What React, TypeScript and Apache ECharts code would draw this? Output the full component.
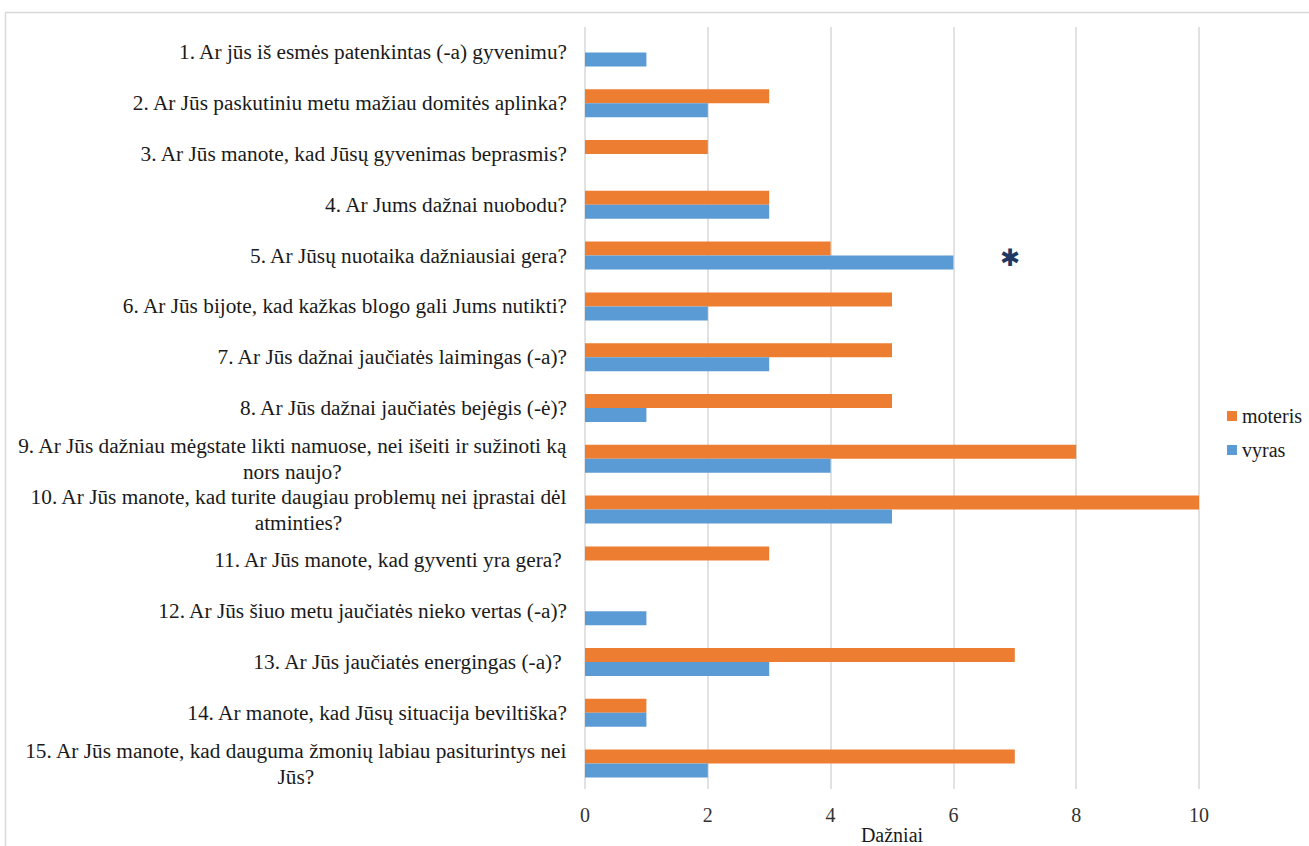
import React, { useEffect, useRef } from "react";
import * as echarts from "echarts";

// Questionnaire items (top to bottom)
const questions: string[] = [
  "1. Ar jūs iš esmės patenkintas (-a) gyvenimu?",
  "2. Ar Jūs paskutiniu metu mažiau domitės aplinka?",
  "3. Ar Jūs manote, kad Jūsų gyvenimas beprasmis?",
  "4. Ar Jums dažnai nuobodu?",
  "5. Ar Jūsų nuotaika dažniausiai gera?",
  "6. Ar Jūs bijote, kad kažkas blogo gali Jums nutikti?",
  "7. Ar Jūs dažnai jaučiatės laimingas (-a)?",
  "8. Ar Jūs dažnai jaučiatės bejėgis (-ė)?",
  "9. Ar Jūs dažniau mėgstate likti namuose, nei išeiti ir sužinoti ką\nnors naujo?",
  "10. Ar Jūs manote, kad turite daugiau problemų nei įprastai dėl\natminties?",
  "11. Ar Jūs manote, kad gyventi yra gera? ",
  "12. Ar Jūs šiuo metu jaučiatės nieko vertas (-a)?",
  "13. Ar Jūs jaučiatės energingas (-a)? ",
  "14. Ar manote, kad Jūsų situacija beviltiška?",
  "15. Ar Jūs manote, kad dauguma žmonių labiau pasiturintys nei\nJūs?",
];

const moteris: number[] = [0, 3, 2, 3, 4, 5, 5, 5, 8, 10, 3, 0, 7, 1, 7];
const vyras: number[] = [1, 2, 0, 3, 6, 2, 3, 1, 4, 5, 0, 1, 3, 1, 2];

const seriesNames: string[] = ["moteris", "vyras"];
const xTicks = { min: 0, max: 10, interval: 2 };
const axisTitle = "Dažniai";

const SERIF = "Liberation Serif";
const LABEL_SIZE = 21.3;

export default function App() {
  const ref = useRef<HTMLDivElement | null>(null);

  useEffect(() => {
    if (!ref.current) return;
    const chart = echarts.init(ref.current, undefined, { renderer: "svg" });

    chart.setOption({
      animation: false,
      backgroundColor: "#ffffff",
      textStyle: { fontFamily: SERIF },
      grid: {
        left: 585,
        right: 110,
        top: 27,
        bottom: 57,
        containLabel: false,
        outerBoundsMode: "none",
      },
      legend: {
        orient: "vertical",
        left: 1222,
        top: 401,
        itemWidth: 10,
        itemHeight: 10,
        itemGap: 14,
        icon: "rect",
        data: seriesNames,
        textStyle: { fontFamily: SERIF, fontSize: 20, color: "#1a1a1a" },
      },
      xAxis: {
        type: "value",
        min: xTicks.min,
        max: xTicks.max,
        interval: xTicks.interval,
        name: axisTitle,
        nameLocation: "middle",
        nameGap: 36,
        nameMoveOverlap: false,
        nameTextStyle: { fontFamily: SERIF, fontSize: 20, color: "#1a1a1a" },
        axisLine: { show: false },
        axisTick: { show: false },
        axisLabel: { fontFamily: SERIF, fontSize: 20, color: "#333333", margin: 16 },
        splitLine: { show: true, lineStyle: { color: "#d9d9d9", width: 1.5 } },
      },
      yAxis: {
        type: "category",
        inverse: true,
        data: questions,
        axisLine: { show: false },
        axisTick: { show: false },
        axisLabel: {
          margin: 18,
          fontFamily: SERIF,
          fontSize: LABEL_SIZE,
          color: "#1a1a1a",
          align: "right",
          lineHeight: 26,
          interval: 0,
          formatter: (v: string) =>
            v.indexOf("\n") >= 0
              ? v
                  .split("\n")
                  .map((s) => `{c|${s}}`)
                  .join("\n")
              : v,
          rich: {
            c: {
              align: "center",
              fontFamily: SERIF,
              fontSize: LABEL_SIZE,
              color: "#1a1a1a",
              lineHeight: 26,
            },
          },
        },
      },
      series: [
        {
          name: seriesNames[0],
          type: "bar",
          data: moteris,
          barWidth: 14,
          barGap: "0%",
          itemStyle: { color: "#ED7D31" },
        },
        {
          name: seriesNames[1],
          type: "bar",
          data: vyras,
          barWidth: 14,
          barGap: "0%",
          itemStyle: { color: "#5B9BD5" },
        },
      ],
      graphic: [
        {
          type: "rect",
          shape: { x: 5.5, y: 12.5, width: 1400, height: 1000 },
          style: { fill: "none", stroke: "#d9d9d9", lineWidth: 1.5 },
          silent: true,
        },
        {
          type: "text",
          x: 1010,
          y: 258,
          style: {
            text: "✱",
            fontFamily: "DejaVu Sans",
            fontSize: 24,
            fill: "#1F3864",
            align: "center",
            verticalAlign: "middle",
          },
        },
      ],
    });

    return () => chart.dispose();
  }, []);

  return (
    <div
      ref={ref}
      style={{ position: "fixed", left: 0, top: 0, width: 1309, height: 846, background: "#fff" }}
    />
  );
}
